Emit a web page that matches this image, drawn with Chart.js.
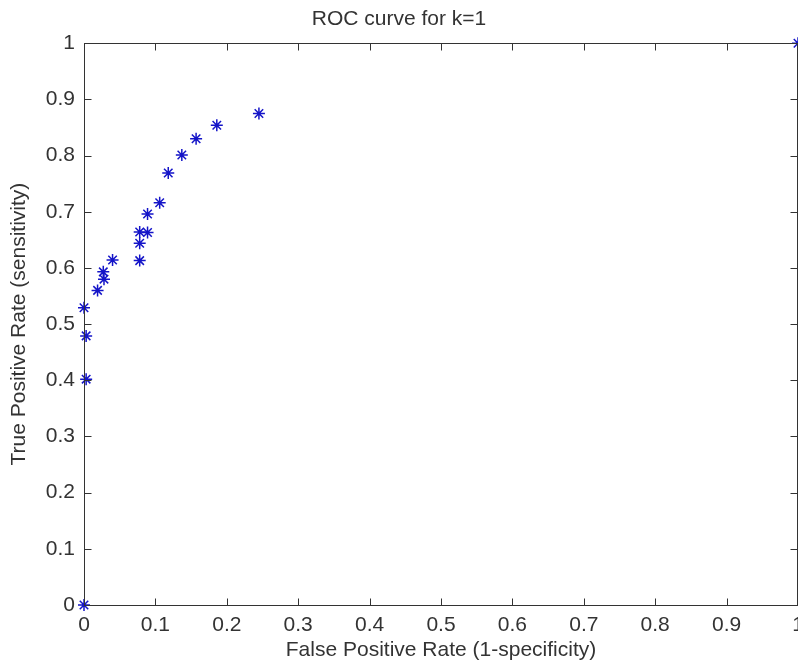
<!DOCTYPE html>
<html>
<head>
<meta charset="utf-8">
<script src="https://cdn.jsdelivr.net/npm/chart.js@4"></script>
<style>
    html, body { margin: 0; padding: 0; background: #ffffff; }
    #wrap { width: 798px; height: 667px; }
</style>
</head>
<body>
<div id="wrap"><canvas id="roc-chart" width="798" height="667"></canvas></div>
<script>
// ROC points (false positive rate, true positive rate)
const fprValues = [0, 0.003, 0.003, 0, 0.019, 0.028, 0.027, 0.040, 0.078, 0.078, 0.078, 0.089, 0.089, 0.106, 0.118, 0.137, 0.157, 0.186, 0.245, 1];
const tprValues = [0, 0.402, 0.479, 0.529, 0.560, 0.580, 0.593, 0.614, 0.613, 0.644, 0.664, 0.663, 0.696, 0.716, 0.769, 0.801, 0.830, 0.854, 0.875, 1];
const tickValues = [0, 0.1, 0.2, 0.3, 0.4, 0.5, 0.6, 0.7, 0.8, 0.9, 1];

const axisColor = '#333333';
const textColor = '#333333';
const fontFamily = '"Liberation Sans", Arial, Helvetica, sans-serif';

const formatTick = (v) => Number(v.toFixed(1)).toString();

// matlab style box with inward tick marks on all four sides
const boxTicks = {
    id: 'boxTicks',
    afterDraw: (chart) => {
        const {ctx, chartArea} = chart;
        const xs = chart.scales.x;
        const ys = chart.scales.y;
        const len = 7;
        const left = Math.round(chartArea.left) + 0.5;
        const right = Math.round(chartArea.right) - 0.5;
        const top = Math.round(chartArea.top) + 0.5;
        const bottom = Math.round(chartArea.bottom) + 0.5;
        ctx.save();
        ctx.strokeStyle = axisColor;
        ctx.lineWidth = 1;
        ctx.beginPath();
        tickValues.forEach((v) => {
            const px = Math.min(Math.round(xs.getPixelForValue(v)) + 0.5, right);
            ctx.moveTo(px, bottom);
            ctx.lineTo(px, bottom - len);
            ctx.moveTo(px, top);
            ctx.lineTo(px, top + len);
            const py = Math.round(ys.getPixelForValue(v)) + 0.5;
            ctx.moveTo(left, py);
            ctx.lineTo(left + len, py);
            ctx.moveTo(right, py);
            ctx.lineTo(right - len, py);
        });
        ctx.stroke();
        ctx.strokeRect(left, top, right - left, bottom - top);
        ctx.restore();
    }
};

const noEdgePadding = (scale) => {
    scale.paddingLeft = 0;
    scale.paddingRight = 0;
    scale.paddingTop = 0;
    scale.paddingBottom = 0;
};

let rocChart = new Chart(document.getElementById('roc-chart'), {
    type: 'scatter',
    data: {
        datasets: [{
            label: 'ROC',
            data: fprValues.map((x, i) => ({x: x, y: tprValues[i]})),
            pointStyle: 'star',
            pointRadius: 6,
            borderColor: '#1414c8',
            backgroundColor: '#1414c8',
            borderWidth: 1.5,
            clip: false
        }]
    },
    options: {
        responsive: false,
        animation: false,
        layout: {
            autoPadding: false,
            padding: 0
        },
        plugins: {
            legend: { display: false },
            tooltip: { enabled: false },
            title: {
                display: true,
                text: 'ROC curve for k=1',
                color: textColor,
                font: { family: fontFamily, size: 21, weight: 'normal' },
                padding: { top: 7, bottom: 11 }
            }
        },
        scales: {
            x: {
                type: 'linear',
                min: 0,
                max: 1,
                afterFit: (scale) => { scale.height = 62; noEdgePadding(scale); },
                afterBuildTicks: (scale) => { scale.ticks = tickValues.map((v) => ({value: v})); },
                grid: { display: false, drawTicks: false },
                border: { display: false },
                ticks: {
                    color: textColor,
                    font: { family: fontFamily, size: 21 },
                    padding: 8,
                    maxRotation: 0,
                    autoSkip: false,
                    callback: formatTick
                },
                title: {
                    display: true,
                    text: 'False Positive Rate (1-specificity)',
                    color: textColor,
                    font: { family: fontFamily, size: 21 },
                    padding: { top: 0, bottom: 4 }
                }
            },
            y: {
                type: 'linear',
                min: 0,
                max: 1,
                afterFit: (scale) => { scale.width = 84; noEdgePadding(scale); },
                afterBuildTicks: (scale) => { scale.ticks = tickValues.map((v) => ({value: v})); },
                grid: { display: false, drawTicks: false },
                border: { display: false },
                ticks: {
                    color: textColor,
                    font: { family: fontFamily, size: 21 },
                    padding: 9,
                    autoSkip: false,
                    callback: formatTick
                },
                title: {
                    display: true,
                    text: 'True Positive Rate (sensitivity)',
                    color: textColor,
                    font: { family: fontFamily, size: 21 },
                    padding: { top: 7, bottom: 0 }
                }
            }
        }
    },
    plugins: [boxTicks]
});
</script>
</body>
</html>
